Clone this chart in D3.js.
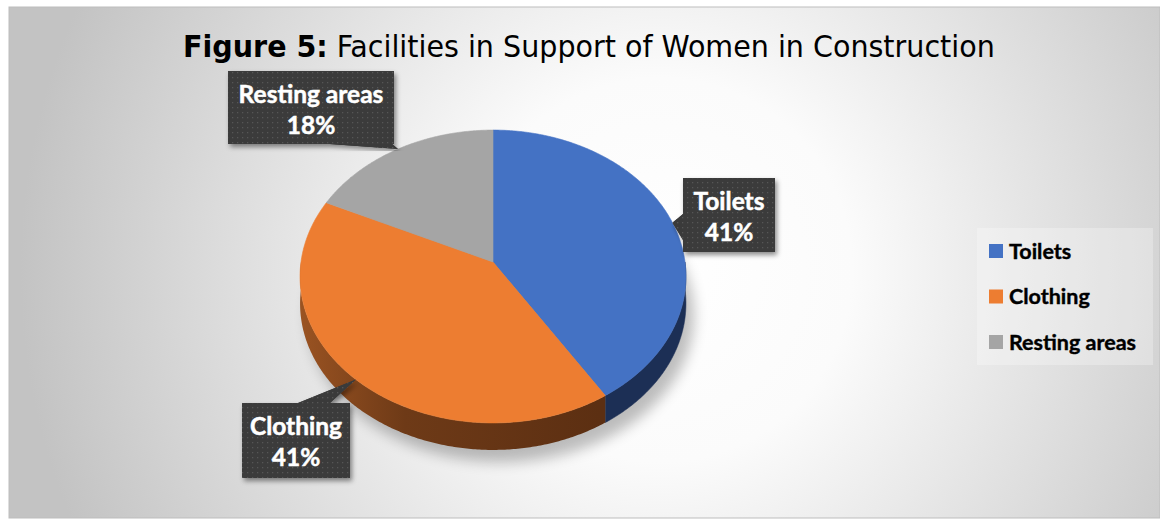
<!DOCTYPE html>
<html><head><meta charset="utf-8">
<script src="https://cdn.jsdelivr.net/npm/d3@7"></script>
<style>html,body{margin:0;padding:0;background:#fff;}svg{display:block;}</style>
</head><body>
<svg id="chart" width="1160" height="519"></svg>
<script>
const categories = ["Toilets", "Clothing", "Resting areas"];
const values = [41, 41, 18];
const colors = ["#4472c4", "#ed7d31", "#a5a5a5"];
const sideColors = ["#1c2f55", "#6a3816", "#5a5a5a"];
const titleBold = "Figure 5:";
const titleRest = " Facilities in Support of Women in Construction";

const svg = d3.select("#chart");
const defs = svg.append("defs");

// background gradient
const bg = defs.append("radialGradient").attr("id", "bgGrad")
  .attr("gradientUnits", "userSpaceOnUse").attr("cx", 660).attr("cy", 270).attr("r", 640);
bg.append("stop").attr("offset", 0).attr("stop-color", "#ffffff");
bg.append("stop").attr("offset", 0.3).attr("stop-color", "#fbfbfb");
bg.append("stop").attr("offset", 1).attr("stop-color", "#c3c3c3");

svg.append("rect").attr("x", 9).attr("y", 7).attr("width", 1151).attr("height", 511)
  .attr("fill", "url(#bgGrad)").attr("stroke", "#bdbdbd").attr("stroke-width", 1);

// dot pattern for label boxes
const pat = defs.append("pattern").attr("id", "dots").attr("patternUnits", "userSpaceOnUse")
  .attr("width", 5).attr("height", 5);
pat.append("rect").attr("width", 5).attr("height", 5).attr("fill", "#3a3a3a");
pat.append("rect").attr("x", 2).attr("y", 2).attr("width", 1.3).attr("height", 1.3).attr("fill", "#565656");

const blur = defs.append("filter").attr("id", "blur").attr("x", "-20%").attr("y", "-20%").attr("width", "140%").attr("height", "140%");
blur.append("feGaussianBlur").attr("stdDeviation", 7);
const ds = defs.append("filter").attr("id", "boxShadow").attr("x", "-20%").attr("y", "-20%").attr("width", "150%").attr("height", "150%");
ds.append("feDropShadow").attr("dx", 2).attr("dy", 3).attr("stdDeviation", 2.5).attr("flood-color", "#000").attr("flood-opacity", 0.45);

const orangeSide = defs.append("linearGradient").attr("id", "orangeSide")
  .attr("gradientUnits", "userSpaceOnUse").attr("x1", 300).attr("x2", 600).attr("y1", 0).attr("y2", 0);
orangeSide.append("stop").attr("offset", 0).attr("stop-color", "#9a5322");
orangeSide.append("stop").attr("offset", 0.35).attr("stop-color", "#6e3a17");
orangeSide.append("stop").attr("offset", 1).attr("stop-color", "#5c2f12");

// title
const title = svg.append("text").attr("y", 57).attr("font-family", "'DejaVu Sans Condensed', 'DejaVu Sans', sans-serif")
  .attr("font-size", 30).attr("fill", "#000");
title.append("tspan").attr("font-weight", "bold").text(titleBold);
title.append("tspan").text(titleRest);
{
  const w = title.node().getComputedTextLength();
  const target = 812, left = 183;
  title.attr("transform", `translate(${left},0) scale(${target / w},1)`);
}

// pie geometry with simple perspective
const cx = 493, cy = 262, a = 192, b = 145, kp = 0.099 / 145, depth = 27;
function proj(theta, dy = 0) {
  const x = a * Math.sin(theta), y = -b * Math.cos(theta);
  const s = 1 / (1 - kp * y);
  return [cx + x * s, cy + y * s + dy];
}
const pie = d3.pie().sort(null).value(d => d)(values);
function rimPts(a0, a1, dy) {
  const n = Math.max(2, Math.ceil((a1 - a0) / 0.01));
  return d3.range(n + 1).map(i => proj(a0 + (a1 - a0) * i / n, dy));
}
const line = d3.line();

// shadow beneath pie
svg.append("path")
  .attr("d", line(rimPts(0, 2 * Math.PI, depth + 6)) + "Z")
  .attr("transform", "translate(8,6)")
  .attr("fill", "#000").attr("opacity", 0.25).attr("filter", "url(#blur)");

// side walls
const front0 = Math.PI / 2, front1 = 3 * Math.PI / 2;
pie.forEach((p, i) => {
  const s0 = Math.max(p.startAngle, front0), s1 = Math.min(p.endAngle, front1);
  if (s1 <= s0) return;
  const top = rimPts(s0, s1, 0), bot = rimPts(s0, s1, depth).reverse();
  svg.append("path").attr("d", line(top.concat(bot)) + "Z")
    .attr("fill", i === 1 ? "url(#orangeSide)" : sideColors[i])
    .attr("stroke", i === 1 ? "none" : sideColors[i]).attr("stroke-width", 0.5);
});

// top faces
pie.forEach((p, i) => {
  const pts = [[cx, cy]].concat(rimPts(p.startAngle, p.endAngle, 0));
  svg.append("path").attr("d", line(pts) + "Z").attr("fill", colors[i])
    .attr("stroke", colors[i]).attr("stroke-width", 0.6).attr("stroke-linejoin", "round");
});

// data labels (callouts)
const total = d3.sum(values);
const boxes = [
  { x: 683, y: 178, w: 92, h: 74, base: [[683, 214], [683, 240]] },
  { x: 242, y: 403, w: 108, h: 75, base: [[298, 403], [330, 403]] },
  { x: 228, y: 71, w: 166, h: 73, base: [[330, 144], [392, 144]] }
];
const lblFont = "Lato, 'Open Sans', sans-serif";
pie.forEach((p, i) => {
  const bx = boxes[i];
  const mid = (p.startAngle + p.endAngle) / 2;
  const tip = proj(mid, 0);
  const g = svg.append("g");
  g.append("path").attr("d", line([bx.base[0], tip, bx.base[1]]) + "Z")
    .attr("fill", "url(#dots)").attr("filter", "url(#boxShadow)");
  g.append("rect").attr("x", bx.x).attr("y", bx.y).attr("width", bx.w).attr("height", bx.h)
    .attr("fill", "url(#dots)").attr("filter", "url(#boxShadow)");
  g.append("path").attr("d", line([bx.base[0], tip, bx.base[1]]) + "Z").attr("fill", "url(#dots)");
  const t = g.append("text").attr("text-anchor", "middle").attr("fill", "#fff")
    .attr("font-family", lblFont).attr("font-weight", "bold").attr("font-size", 24.5)
    .attr("stroke", "#fff").attr("stroke-width", 0.5);
  t.append("tspan").attr("x", bx.x + bx.w / 2).attr("y", bx.y + 32).text(categories[i]);
  t.append("tspan").attr("x", bx.x + bx.w / 2).attr("y", bx.y + 63).text(Math.round(values[i] / total * 100) + "%");
});

// legend
svg.append("rect").attr("x", 977).attr("y", 228).attr("width", 176).attr("height", 137)
  .attr("fill", "#ffffff").attr("opacity", 0.28);
const ly = d3.scalePoint().domain(categories).range([251, 342]);
categories.forEach((c, i) => {
  svg.append("rect").attr("x", 989).attr("y", ly(c) - 7).attr("width", 14).attr("height", 14).attr("fill", colors[i]);
  svg.append("text").attr("x", 1009).attr("y", ly(c) + 7.5).attr("font-family", lblFont)
    .attr("font-weight", "bold").attr("font-size", 21.5).attr("fill", "#000")
    .attr("stroke", "#000").attr("stroke-width", 0.4).text(c);
});
</script>
</body></html>
